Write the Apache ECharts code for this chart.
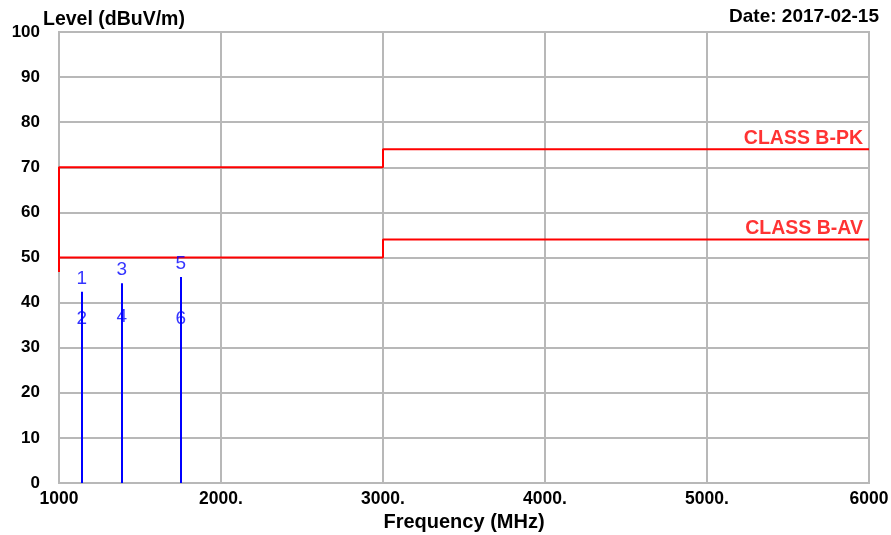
<!DOCTYPE html>
<html>
<head>
<meta charset="utf-8">
<script src="https://cdn.jsdelivr.net/npm/echarts@6/dist/echarts.min.js"></script>
<style>
html,body{margin:0;padding:0;background:#fff;}
#chart{width:891px;height:535px;}
</style>
</head>
<body>
<div id="chart"></div>
<script>
// ---- data ----
const xTickLabels = {1000:'1000',2000:'2000.',3000:'3000.',4000:'4000.',5000:'5000.',6000:'6000'};
const pkLimitFreq = [1000, 1000, 3000, 3000, 6000];
const pkLimitLevel = [46.8, 70, 70, 74, 74];
const avLimitFreq = [1000, 3000, 3000, 6000];
const avLimitLevel = [50, 50, 54, 54];
const markerFreq = [1140, 1387, 1751];
const markerPeak = [42.4, 44.3, 45.7];
const markerAvg = [33.7, 34.1, 33.7];
const peakLabels = ['1', '3', '5'];
const avgLabels = ['2', '4', '6'];
const pkLimitName = 'CLASS B-PK';
const avLimitName = 'CLASS B-AV';
const yAxisTitle = 'Level (dBuV/m)';
const xAxisTitle = 'Frequency (MHz)';
const dateText = 'Date: 2017-02-15';

const FONT = '"Liberation Sans", Arial, sans-serif';
const chart = echarts.init(document.getElementById('chart'), null, {renderer: 'canvas'});

const pkData = pkLimitFreq.map((f, i) => [f, pkLimitLevel[i]]);
const avData = avLimitFreq.map((f, i) => [f, avLimitLevel[i]]);
const stemData = markerFreq.map((f, i) => [f, markerPeak[i]]);
const peakPts = markerFreq.map((f, i) => ({value: [f, markerPeak[i]], name: peakLabels[i]}));
const avgPts = markerFreq.map((f, i) => ({value: [f, markerAvg[i]], name: avgLabels[i]}));

const option = {
  animation: false,
  backgroundColor: '#ffffff',
  grid: {left: 59, right: 22, top: 32, bottom: 52, show: true, borderColor: '#b8b8b8', borderWidth: 2,
    containLabel: false, outerBoundsMode: 'none'},
  graphic: [
    {type: 'text', left: 43, top: 10, style: {text: yAxisTitle, font: 'bold 19.5px ' + FONT, fill: '#000'}},
    {type: 'text', right: 12, top: 7, style: {text: dateText, font: 'bold 19px ' + FONT, fill: '#000'}}
  ],
  xAxis: {
    type: 'value', min: 1000, max: 6000, interval: 1000,
    name: xAxisTitle, nameLocation: 'middle', nameGap: 29, nameMoveOverlap: false,
    nameTextStyle: {fontFamily: FONT, fontWeight: 'bold', fontSize: 20, color: '#000', verticalAlign: 'top'},
    axisLine: {show: true, lineStyle: {color: '#b8b8b8', width: 2}},
    axisTick: {show: false},
    axisLabel: {fontFamily: FONT, fontWeight: 'bold', fontSize: 17.5, color: '#000', margin: 7,
      formatter: v => xTickLabels[v] !== undefined ? xTickLabels[v] : String(v)},
    splitLine: {show: true, lineStyle: {color: '#b8b8b8', width: 2}}
  },
  yAxis: {
    type: 'value', min: 0, max: 100, interval: 10,
    axisLine: {show: true, lineStyle: {color: '#b8b8b8', width: 2}},
    axisTick: {show: false},
    axisLabel: {fontFamily: FONT, fontWeight: 'bold', fontSize: 17, color: '#000', margin: 19},
    splitLine: {show: true, lineStyle: {color: '#b8b8b8', width: 2}}
  },
  series: [
    {
      type: 'line', data: pkData, symbol: 'none', lineStyle: {color: '#ff0000', width: 2}, z: 5
    },
    {
      type: 'line', data: avData, symbol: 'none', lineStyle: {color: '#ff0000', width: 2}, z: 5
    },
    {
      type: 'custom', z: 6,
      data: stemData,
      renderItem: function (params, api) {
        const p0 = api.coord([api.value(0), 0]);
        const p1 = api.coord([api.value(0), api.value(1)]);
        return {type: 'line', shape: {x1: Math.round(p0[0]), y1: p0[1], x2: Math.round(p1[0]), y2: p1[1]},
          style: {stroke: '#0000ff', lineWidth: 2}};
      }
    },
    {
      type: 'scatter', data: peakPts, symbolSize: 0, z: 7,
      label: {show: true, position: 'top', distance: 4, formatter: p => p.name,
        fontFamily: FONT, fontSize: 19, color: '#0000ff'}
    },
    {
      type: 'scatter', data: avgPts, symbolSize: 0, z: 7,
      label: {show: true, position: 'top', distance: 3, formatter: p => p.name,
        fontFamily: FONT, fontSize: 19, color: '#0000ff'}
    },
    {
      type: 'scatter', symbolSize: 0, z: 7,
      data: [{value: [6000, pkLimitLevel[pkLimitLevel.length - 1]], name: pkLimitName},
             {value: [6000, avLimitLevel[avLimitLevel.length - 1]], name: avLimitName}],
      label: {show: true, position: 'left', distance: 6, offset: [0, -11], formatter: p => p.name,
        fontFamily: FONT, fontWeight: 'bold', fontSize: 19.5, color: '#ff0000'}
    }
  ]
};
chart.setOption(option);
</script>
</body>
</html>
